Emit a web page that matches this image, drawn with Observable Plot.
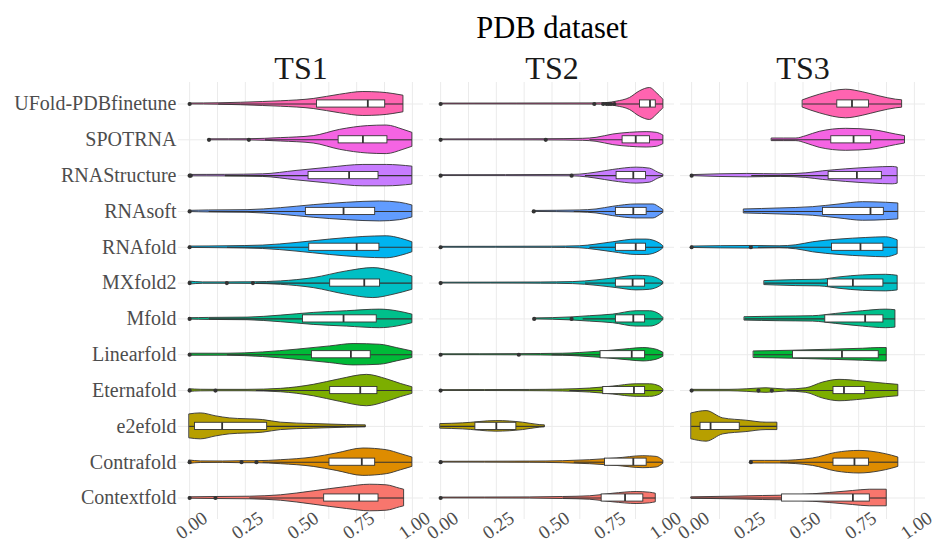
<!DOCTYPE html>
<html>
<head>
<meta charset="utf-8">
<script src="https://cdn.jsdelivr.net/npm/d3@7"></script>
<script src="https://cdn.jsdelivr.net/npm/@observablehq/plot@0.6"></script>
<style>
  html, body { margin: 0; padding: 0; background: #fff; }
</style>
</head>
<body>
<div id="chart"></div>
<script>
// ---------- data ----------
const title = "PDB dataset";
const sets = ["TS1", "TS2", "TS3"];
// bottom to top
const methods = ["Contextfold", "Contrafold", "e2efold", "Eternafold", "Linearfold", "Mfold",
  "MXfold2", "RNAfold", "RNAsoft", "RNAStructure", "SPOTRNA", "UFold-PDBfinetune"];
const colors = ["#F8766D", "#DE8C00", "#B79F00", "#7CAE00", "#00BA38", "#00C08B",
  "#00BFC4", "#00B4F0", "#619CFF", "#C77CFF", "#F564E3", "#FF64B0"];
const xTicks = [0, 0.25, 0.5, 0.75, 1.0];
const xGrid = [0, 0.125, 0.25, 0.375, 0.5, 0.625, 0.75, 0.875, 1.0];

// density profiles: [value, density] per method (order of `methods`)
const densTS1 = [
  [[0,0.7],[0.116,1],[0.27,1.3],[0.41,2.7],[0.557,6.7],[0.706,11],[0.81,13.3],[0.885,12.7],[0.945,9.3],[0.963,8.3]],
  [[0,1.7],[0.05,0.8],[0.15,0.7],[0.233,1],[0.3,1],[0.41,2],[0.557,4.7],[0.66,8.7],[0.78,13.7],[0.885,12],[0.95,8],[1.0,4.7]],
  [[0,12],[0.05,13],[0.12,10],[0.18,8],[0.33,6.3],[0.41,3.7],[0.557,2.3],[0.706,1.3],[0.791,1]],
  [[0,1.3],[0.05,0.8],[0.116,0.7],[0.26,0.7],[0.41,1.7],[0.557,5.7],[0.676,11.3],[0.796,15.7],[0.885,11.3],[0.95,6.5],[1.0,3.3]],
  [[0,1],[0.17,1],[0.33,2.3],[0.48,5],[0.63,8.3],[0.736,10.7],[0.855,10],[0.93,6.7],[1.0,3.3]],
  [[0,0.7],[0.087,1],[0.26,1.3],[0.41,3.3],[0.557,6],[0.706,7.7],[0.855,9.3],[0.93,7.7],[1.0,4.3]],
  [[0,1.5],[0.06,0.7],[0.167,0.7],[0.284,0.8],[0.41,1.7],[0.557,5],[0.706,11.7],[0.825,15],[0.915,11.7],[1.0,6.7]],
  [[0,0.7],[0.17,1],[0.33,1.7],[0.48,4.3],[0.63,7.7],[0.78,10.3],[0.885,11],[0.95,8.5],[1.0,5]],
  [[0,0.6],[0.087,1],[0.26,1.3],[0.41,3.3],[0.557,6.3],[0.706,8.7],[0.855,10],[0.945,8.7],[1.0,6]],
  [[0,0.7],[0.16,0.8],[0.33,1.3],[0.48,4.7],[0.63,8],[0.78,10.7],[0.885,10.7],[1.0,9]],
  [[0.087,0.5],[0.266,0.6],[0.41,1.7],[0.557,3.7],[0.676,10],[0.8,13.7],[0.885,14.3],[0.96,10],[1.0,7]],
  [[0,0.5],[0.13,0.7],[0.33,2],[0.41,2.7],[0.557,5],[0.676,9.3],[0.78,12],[0.855,11.5],[0.915,10],[0.96,8.3]]
];
const densTS2 = [
  [[0,0.4],[0.4,0.6],[0.55,1],[0.67,1.7],[0.775,4.3],[0.88,6],[0.94,5.3],[0.966,4.3]],
  [[0,0.4],[0.4,0.6],[0.55,1],[0.67,2],[0.79,3.7],[0.91,6],[0.97,5.3],[1.0,1.5]],
  [[0,2.3],[0.1,3],[0.25,5.3],[0.37,3.7],[0.445,1.3],[0.468,1]],
  [[0,0.4],[0.4,0.6],[0.55,1],[0.67,2],[0.775,4],[0.88,6.3],[0.94,6.3],[0.985,4],[1.0,1]],
  [[0,0.4],[0.351,0.6],[0.55,1],[0.625,1.7],[0.73,3.3],[0.85,5.7],[0.91,6.7],[0.97,5],[1.0,2]],
  [[0.42,0.5],[0.588,1.5],[0.67,2.7],[0.775,4.3],[0.88,7.7],[0.94,7.7],[0.985,4.3],[1.0,1]],
  [[0,0.4],[0.45,0.6],[0.595,1],[0.7,2.7],[0.79,5],[0.88,7.3],[0.94,6.7],[0.985,3.3],[1.0,1]],
  [[0,0.4],[0.5,0.6],[0.625,1],[0.7,2.7],[0.775,5],[0.88,7.7],[0.925,7.7],[0.985,3.7],[1.0,1]],
  [[0.418,0.5],[0.625,1],[0.7,2],[0.775,4.7],[0.88,7],[0.955,7],[0.985,3.7],[1.0,1.5]],
  [[0,0.4],[0.588,0.7],[0.625,1],[0.7,3],[0.775,5.7],[0.88,8],[0.94,7],[0.977,3],[1.0,1]],
  [[0,0.4],[0.472,0.6],[0.64,1],[0.7,2],[0.775,5.3],[0.85,7],[0.925,7.7],[0.97,7],[1.0,4.3]],
  [[0,0.4],[0.69,0.6],[0.75,1],[0.79,2.3],[0.85,6],[0.895,12.7],[0.94,16],[0.97,11],[1.0,4.3]]
];
const densTS3 = [
  [[0,0.7],[0.17,1.3],[0.32,2],[0.47,2.7],[0.62,5],[0.724,7],[0.8,8.3],[0.876,8.3]],
  [[0.266,1.3],[0.395,1.3],[0.545,3.7],[0.649,9.3],[0.754,11.3],[0.843,9.3],[0.9,6.5],[0.928,4.7]],
  [[0,13],[0.067,15.3],[0.142,8],[0.246,5.7],[0.336,3.7],[0.385,3.7]],
  [[0,0.7],[0.17,0.7],[0.25,1.3],[0.336,2.3],[0.425,1],[0.515,2.3],[0.59,8],[0.664,10.7],[0.769,9],[0.873,6.7],[0.928,5.7]],
  [[0.28,3.3],[0.455,4],[0.62,5],[0.769,6],[0.843,6.7],[0.876,6.7]],
  [[0.239,1.7],[0.395,2.3],[0.545,2.7],[0.649,5],[0.769,7.7],[0.873,9.3],[0.915,8.7]],
  [[0.328,2],[0.47,3],[0.575,3.3],[0.664,5.7],[0.769,7.7],[0.873,8.3],[0.925,7.3]],
  [[0,0.7],[0.266,1.3],[0.395,1],[0.47,2],[0.545,5],[0.664,7.7],[0.784,9.3],[0.873,10],[0.925,7]],
  [[0.236,2],[0.395,3],[0.545,4.3],[0.664,7],[0.769,9.3],[0.873,8.7],[0.928,8]],
  [[0,0.5],[0.25,1.7],[0.4,1.3],[0.515,2.3],[0.59,4.3],[0.694,6.3],[0.813,8],[0.903,8.7],[0.925,8]],
  [[0.361,1.3],[0.47,1.3],[0.515,3.7],[0.575,8],[0.694,11],[0.813,9.7],[0.918,5.3],[0.958,3.7]],
  [[0.5,3.7],[0.575,9.3],[0.694,14.3],[0.77,11.7],[0.843,7.7],[0.918,4.3],[0.945,3.7]]
];

// box stats: [lower whisker, Q1, median, Q3, upper whisker]
const boxTS1 = [
  [0.27,0.604,0.761,0.848,0.963], [0.33,0.628,0.773,0.833,1.0], [0,0.024,0.146,0.348,0.791],
  [0.3,0.631,0.766,0.843,1.0], [0.17,0.549,0.724,0.813,1.0], [0.087,0.509,0.691,0.84,1.0],
  [0.3,0.631,0.784,0.855,1.0], [0.17,0.537,0.75,0.852,1.0], [0.087,0.522,0.691,0.833,1.0],
  [0.16,0.534,0.716,0.848,1.0], [0.34,0.669,0.778,0.888,1.0], [0.13,0.572,0.80,0.878,0.96]
];
const boxTS2 = [
  [0.55,0.723,0.828,0.91,0.966], [0.6,0.738,0.865,0.925,1.0], [0,0.156,0.25,0.34,0.468],
  [0.58,0.73,0.868,0.918,1.0], [0.5,0.718,0.858,0.918,1.0], [0.64,0.787,0.865,0.918,1.0],
  [0.65,0.787,0.862,0.918,1.0], [0.67,0.787,0.876,0.922,1.0], [0.6,0.787,0.865,0.925,1.0],
  [0.65,0.79,0.865,0.922,1.0], [0.67,0.817,0.876,0.94,1.0], [0.79,0.895,0.94,0.966,1.0]
];
const boxTS3 = [
  [0,0.406,0.724,0.8,0.876], [0.4,0.637,0.731,0.796,0.928], [0,0.04,0.085,0.216,0.385],
  [0.43,0.637,0.684,0.779,0.928], [0.28,0.455,0.675,0.84,0.876], [0.239,0.6,0.779,0.861,0.915],
  [0.328,0.612,0.724,0.861,0.925], [0.3,0.63,0.758,0.861,0.925], [0.236,0.59,0.803,0.863,0.928],
  [0.27,0.615,0.742,0.854,0.925], [0.361,0.627,0.727,0.806,0.958], [0.5,0.654,0.72,0.796,0.945]
];

// outliers
const outTS1 = [[0,0.116],[0,0.233,0.30],[],[0,0.116],[0],[0],[0,0.167,0.284],[0],[0],[0,0.005],[0.087,0.266],[0]];
const outTS2 = [[0],[0],[],[0],[0,0.351],[0.42,0.588],[0],[0],[0.418],[0,0.588],[0,0.472],[0,0.69,0.73,0.745,0.755,0.765,0.78]];
const outTS3 = [[],[0.266],[],[0,0.30,0.36],[],[],[],[0,0.266],[],[0],[],[]];

// ---------- build tables ----------
const dens = {TS1: densTS1, TS2: densTS2, TS3: densTS3};
const boxes = {TS1: boxTS1, TS2: boxTS2, TS3: boxTS3};
const outs = {TS1: outTS1, TS2: outTS2, TS3: outTS3};
const densScale = 1 / 35.85; // density units -> category units

const violinRows = [], boxRows = [], outRows = [];
for (const s of sets) {
  methods.forEach((m, i) => {
    for (const [v, w] of dens[s][i]) violinRows.push({set: s, method: m, idx: i, v, w: w * densScale});
    const [low, q1, med, q3, high] = boxes[s][i];
    boxRows.push({set: s, method: m, idx: i, low, q1, med, q3, high});
    for (const v of outs[s][i]) outRows.push({set: s, method: m, idx: i, v});
  });
}

const font = "'Liberation Serif', 'Times New Roman', serif";
const ink = "#333333";
const bw = 0.1;

const chart = Plot.plot({
  width: 935,
  height: 543,
  marginLeft: 178,
  marginRight: 9,
  marginTop: 82,
  marginBottom: 24,
  style: {fontFamily: font, background: "white", overflow: "visible"},
  fx: {domain: sets, paddingInner: 0.0225, paddingOuter: 0, axis: null},
  x: {domain: [-0.05, 1.05]},
  y: {domain: [-0.6, methods.length - 0.4]},
  color: {domain: methods, range: colors},
  marks: [
    Plot.gridX({ticks: xGrid, stroke: "#EBEBEB", strokeOpacity: 1, strokeWidth: 1}),
    Plot.gridY({ticks: methods.map((_, i) => i), stroke: "#EBEBEB", strokeOpacity: 1, strokeWidth: 1}),
    Plot.areaY(violinRows, {
      fx: "set", x: "v", y1: d => d.idx - d.w, y2: d => d.idx + d.w, z: "method",
      fill: "method", stroke: ink, strokeWidth: 0.9, curve: "monotone-x"
    }),
    Plot.ruleY(boxRows, {fx: "set", y: "idx", x1: "low", x2: "q1", stroke: ink, strokeWidth: 1.1}),
    Plot.ruleY(boxRows, {fx: "set", y: "idx", x1: "q3", x2: "high", stroke: ink, strokeWidth: 1.1}),
    Plot.rect(boxRows, {fx: "set", x1: "q1", x2: "q3", y1: d => d.idx - bw, y2: d => d.idx + bw,
      fill: "white", stroke: ink, strokeWidth: 0.9}),
    Plot.ruleX(boxRows, {fx: "set", x: "med", y1: d => d.idx - bw, y2: d => d.idx + bw, stroke: ink, strokeWidth: 1.8}),
    Plot.dot(outRows, {fx: "set", x: "v", y: "idx", r: 2.1, fill: ink, stroke: null}),
    Plot.axisY({ticks: methods.map((_, i) => i), tickFormat: i => methods[i], tickSize: 0, tickPadding: 2,
      fontSize: 20, fill: "#4D4D4D", fontFamily: font, label: null}),
    Plot.axisX({ticks: xTicks, tickFormat: d3.format(".2f"), tickSize: 0, tickPadding: 6, tickRotate: -35,
      textAnchor: "middle", lineAnchor: "middle", dx: 2, fontSize: 19, fill: "#4D4D4D", fontFamily: font, label: null}),
    Plot.text(sets, {fx: d => d, text: d => d, frameAnchor: "top", dy: -26.5, fontSize: 32,
      fill: "#1A1A1A", fontFamily: font}),
    Plot.text(["TS2"], {fx: d => d, text: () => title, frameAnchor: "top", dy: -66, fontSize: 30.5,
      fill: "#000000", fontFamily: font})
  ]
});
document.getElementById("chart").appendChild(chart);
</script>
</body>
</html>
